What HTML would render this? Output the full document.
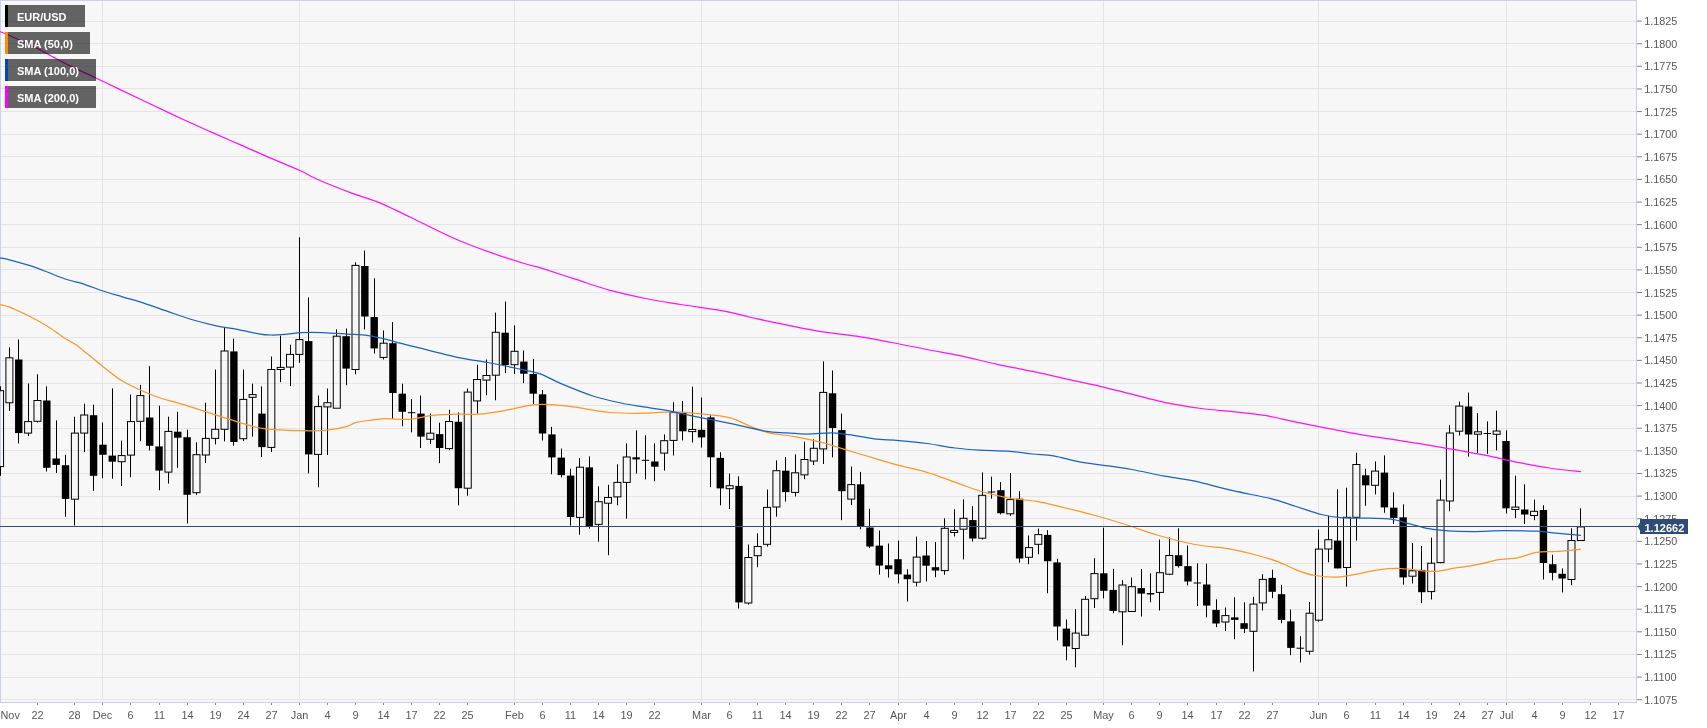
<!DOCTYPE html>
<html lang="en"><head><meta charset="utf-8"><title>EUR/USD</title>
<style>html,body{margin:0;padding:0;background:#fff;}body{width:1707px;height:728px;overflow:hidden;}svg{display:block;will-change:transform;}text{font-family:"Liberation Sans",sans-serif;}</style></head><body>
<svg width="1707" height="728" viewBox="0 0 1707 728">
<rect x="0" y="0" width="1707" height="728" fill="#ffffff"/>
<rect x="0" y="0" width="1637" height="702" fill="#f7f7f7"/>
<g stroke="#e4e4e4" stroke-width="1" shape-rendering="crispEdges"><line x1="0" y1="21.5" x2="1637" y2="21.5"/><line x1="0" y1="43.5" x2="1637" y2="43.5"/><line x1="0" y1="66.5" x2="1637" y2="66.5"/><line x1="0" y1="88.5" x2="1637" y2="88.5"/><line x1="0" y1="111.5" x2="1637" y2="111.5"/><line x1="0" y1="134.5" x2="1637" y2="134.5"/><line x1="0" y1="156.5" x2="1637" y2="156.5"/><line x1="0" y1="179.5" x2="1637" y2="179.5"/><line x1="0" y1="202.5" x2="1637" y2="202.5"/><line x1="0" y1="224.5" x2="1637" y2="224.5"/><line x1="0" y1="247.5" x2="1637" y2="247.5"/><line x1="0" y1="269.5" x2="1637" y2="269.5"/><line x1="0" y1="292.5" x2="1637" y2="292.5"/><line x1="0" y1="315.5" x2="1637" y2="315.5"/><line x1="0" y1="337.5" x2="1637" y2="337.5"/><line x1="0" y1="360.5" x2="1637" y2="360.5"/><line x1="0" y1="383.5" x2="1637" y2="383.5"/><line x1="0" y1="405.5" x2="1637" y2="405.5"/><line x1="0" y1="428.5" x2="1637" y2="428.5"/><line x1="0" y1="450.5" x2="1637" y2="450.5"/><line x1="0" y1="473.5" x2="1637" y2="473.5"/><line x1="0" y1="496.5" x2="1637" y2="496.5"/><line x1="0" y1="518.5" x2="1637" y2="518.5"/><line x1="0" y1="541.5" x2="1637" y2="541.5"/><line x1="0" y1="563.5" x2="1637" y2="563.5"/><line x1="0" y1="586.5" x2="1637" y2="586.5"/><line x1="0" y1="609.5" x2="1637" y2="609.5"/><line x1="0" y1="631.5" x2="1637" y2="631.5"/><line x1="0" y1="654.5" x2="1637" y2="654.5"/><line x1="0" y1="677.5" x2="1637" y2="677.5"/><line x1="0" y1="699.5" x2="1637" y2="699.5"/><line x1="102.5" y1="0" x2="102.5" y2="702"/><line x1="299.5" y1="0" x2="299.5" y2="702"/><line x1="514.5" y1="0" x2="514.5" y2="702"/><line x1="701.5" y1="0" x2="701.5" y2="702"/><line x1="898.5" y1="0" x2="898.5" y2="702"/><line x1="1103.5" y1="0" x2="1103.5" y2="702"/><line x1="1318.5" y1="0" x2="1318.5" y2="702"/><line x1="1506.5" y1="0" x2="1506.5" y2="702"/></g>
<g stroke="#cbd1e4" stroke-width="1" shape-rendering="crispEdges"><line x1="0" y1="0.5" x2="1637" y2="0.5"/><line x1="0.5" y1="0" x2="0.5" y2="702"/><line x1="1636.5" y1="0" x2="1636.5" y2="703"/><line x1="0" y1="702.5" x2="1637" y2="702.5"/></g>
<g stroke="#000" stroke-width="1"><line x1="0.5" y1="386.4" x2="0.5" y2="390.7"/><line x1="0.5" y1="466.6" x2="0.5" y2="475.8"/><rect x="-3.45" y="390.7" width="7" height="75.9" fill="none"/><line x1="9.5" y1="347.4" x2="9.5" y2="357.8"/><line x1="9.5" y1="402.8" x2="9.5" y2="410.9"/><rect x="5.90" y="357.8" width="7" height="45.0" fill="none"/><line x1="18.5" y1="339.5" x2="18.5" y2="443.5"/><rect x="15.05" y="359.5" width="7.4" height="73.6" fill="#000" stroke="none"/><line x1="28.5" y1="383.5" x2="28.5" y2="421.6"/><line x1="28.5" y1="433.1" x2="28.5" y2="436.0"/><rect x="24.61" y="421.6" width="7" height="11.5" fill="none"/><line x1="37.5" y1="374.3" x2="37.5" y2="400.5"/><line x1="37.5" y1="421.3" x2="37.5" y2="422.5"/><rect x="33.96" y="400.5" width="7" height="20.8" fill="none"/><line x1="46.5" y1="386.4" x2="46.5" y2="471.5"/><rect x="43.12" y="400.5" width="7.4" height="67.3" fill="#000" stroke="none"/><line x1="56.5" y1="420.4" x2="56.5" y2="473.0"/><rect x="52.47" y="458.5" width="7.4" height="6.4" fill="#000" stroke="none"/><line x1="65.5" y1="454.8" x2="65.5" y2="516.8"/><rect x="61.82" y="465.2" width="7.4" height="33.7" fill="#000" stroke="none"/><line x1="74.5" y1="416.7" x2="74.5" y2="433.1"/><line x1="74.5" y1="499.2" x2="74.5" y2="525.5"/><rect x="71.38" y="433.1" width="7" height="66.1" fill="none"/><line x1="84.5" y1="403.7" x2="84.5" y2="415.0"/><line x1="84.5" y1="433.1" x2="84.5" y2="452.2"/><rect x="80.73" y="415.0" width="7" height="18.1" fill="none"/><line x1="93.5" y1="404.6" x2="93.5" y2="490.9"/><rect x="89.88" y="415.2" width="7.4" height="60.6" fill="#000" stroke="none"/><line x1="102.5" y1="422.5" x2="102.5" y2="478.2"/><rect x="99.24" y="444.7" width="7.4" height="10.1" fill="#000" stroke="none"/><line x1="112.5" y1="388.4" x2="112.5" y2="478.7"/><rect x="108.59" y="455.6" width="7.4" height="6.1" fill="#000" stroke="none"/><line x1="121.5" y1="440.6" x2="121.5" y2="455.6"/><line x1="121.5" y1="461.7" x2="121.5" y2="486.0"/><rect x="118.15" y="455.6" width="7" height="6.1" fill="none"/><line x1="130.5" y1="394.5" x2="130.5" y2="421.6"/><line x1="130.5" y1="455.1" x2="130.5" y2="477.3"/><rect x="127.50" y="421.6" width="7" height="33.5" fill="none"/><line x1="140.5" y1="384.9" x2="140.5" y2="395.6"/><line x1="140.5" y1="421.3" x2="140.5" y2="441.2"/><rect x="136.85" y="395.6" width="7" height="25.7" fill="none"/><line x1="149.5" y1="366.2" x2="149.5" y2="450.4"/><rect x="146.01" y="417.5" width="7.4" height="28.3" fill="#000" stroke="none"/><line x1="159.5" y1="405.7" x2="159.5" y2="490.3"/><rect x="155.36" y="446.4" width="7.4" height="24.2" fill="#000" stroke="none"/><line x1="168.5" y1="416.7" x2="168.5" y2="431.4"/><line x1="168.5" y1="472.1" x2="168.5" y2="483.6"/><rect x="164.91" y="431.4" width="7" height="40.7" fill="none"/><line x1="177.5" y1="411.8" x2="177.5" y2="467.8"/><rect x="174.07" y="431.7" width="7.4" height="6.0" fill="#000" stroke="none"/><line x1="187.5" y1="429.7" x2="187.5" y2="523.5"/><rect x="183.42" y="437.2" width="7.4" height="57.6" fill="#000" stroke="none"/><line x1="196.5" y1="442.3" x2="196.5" y2="454.7"/><line x1="196.5" y1="492.7" x2="196.5" y2="494.8"/><rect x="192.98" y="454.7" width="7" height="38.0" fill="none"/><line x1="205.5" y1="402.7" x2="205.5" y2="438.4"/><line x1="205.5" y1="455.0" x2="205.5" y2="463.1"/><rect x="202.33" y="438.4" width="7" height="16.6" fill="none"/><line x1="215.5" y1="369.5" x2="215.5" y2="429.3"/><line x1="215.5" y1="438.4" x2="215.5" y2="444.4"/><rect x="211.68" y="429.3" width="7" height="9.1" fill="none"/><line x1="224.5" y1="327.2" x2="224.5" y2="351.0"/><line x1="224.5" y1="429.3" x2="224.5" y2="441.4"/><rect x="221.04" y="351.0" width="7" height="78.3" fill="none"/><line x1="233.5" y1="338.6" x2="233.5" y2="445.6"/><rect x="230.19" y="351.4" width="7.4" height="90.6" fill="#000" stroke="none"/><line x1="243.5" y1="369.5" x2="243.5" y2="399.4"/><line x1="243.5" y1="438.7" x2="243.5" y2="441.1"/><rect x="239.75" y="399.4" width="7" height="39.3" fill="none"/><line x1="252.5" y1="383.7" x2="252.5" y2="394.6"/><line x1="252.5" y1="397.3" x2="252.5" y2="436.6"/><rect x="249.10" y="394.6" width="7" height="2.7" fill="none"/><line x1="261.5" y1="386.4" x2="261.5" y2="457.1"/><rect x="258.25" y="413.6" width="7.4" height="33.5" fill="#000" stroke="none"/><line x1="271.5" y1="356.5" x2="271.5" y2="369.5"/><line x1="271.5" y1="447.4" x2="271.5" y2="452.0"/><rect x="267.81" y="369.5" width="7" height="77.9" fill="none"/><line x1="280.5" y1="335.6" x2="280.5" y2="367.4"/><line x1="280.5" y1="369.5" x2="280.5" y2="382.2"/><rect x="277.16" y="367.4" width="7" height="2.1" fill="none"/><line x1="290.5" y1="344.7" x2="290.5" y2="354.4"/><line x1="290.5" y1="367.1" x2="290.5" y2="386.1"/><rect x="286.51" y="354.4" width="7" height="12.7" fill="none"/><line x1="299.5" y1="237.3" x2="299.5" y2="339.6"/><line x1="299.5" y1="354.4" x2="299.5" y2="362.8"/><rect x="295.87" y="339.6" width="7" height="14.8" fill="none"/><line x1="308.5" y1="297.4" x2="308.5" y2="473.4"/><rect x="305.02" y="341.1" width="7.4" height="113.3" fill="#000" stroke="none"/><line x1="318.5" y1="395.5" x2="318.5" y2="406.6"/><line x1="318.5" y1="454.4" x2="318.5" y2="487.3"/><rect x="314.58" y="406.6" width="7" height="47.8" fill="none"/><line x1="327.5" y1="388.5" x2="327.5" y2="402.7"/><line x1="327.5" y1="406.9" x2="327.5" y2="455.0"/><rect x="323.93" y="402.7" width="7" height="4.2" fill="none"/><line x1="336.5" y1="329.3" x2="336.5" y2="336.2"/><rect x="333.28" y="336.2" width="7" height="72.0" fill="none"/><line x1="346.5" y1="328.5" x2="346.5" y2="385.2"/><rect x="342.44" y="336.2" width="7.4" height="32.4" fill="#000" stroke="none"/><line x1="355.5" y1="262.3" x2="355.5" y2="265.4"/><line x1="355.5" y1="369.5" x2="355.5" y2="374.3"/><rect x="351.99" y="265.4" width="7" height="104.1" fill="none"/><line x1="364.5" y1="250.5" x2="364.5" y2="329.5"/><rect x="361.14" y="266.0" width="7.4" height="50.5" fill="#000" stroke="none"/><line x1="374.5" y1="278.3" x2="374.5" y2="353.5"/><rect x="370.50" y="317.0" width="7.4" height="31.4" fill="#000" stroke="none"/><line x1="383.5" y1="330.4" x2="383.5" y2="343.2"/><line x1="383.5" y1="357.4" x2="383.5" y2="359.5"/><rect x="380.05" y="343.2" width="7" height="14.2" fill="none"/><line x1="392.5" y1="322.1" x2="392.5" y2="418.8"/><rect x="389.21" y="343.2" width="7.4" height="49.8" fill="#000" stroke="none"/><line x1="402.5" y1="383.7" x2="402.5" y2="426.3"/><rect x="398.56" y="393.7" width="7.4" height="18.1" fill="#000" stroke="none"/><line x1="411.5" y1="399.1" x2="411.5" y2="432.3"/><rect x="407.91" y="412.2" width="7.4" height="1.0" fill="#000" stroke="none"/><line x1="420.5" y1="395.5" x2="420.5" y2="448.0"/><rect x="417.27" y="413.6" width="7.4" height="23.0" fill="#000" stroke="none"/><line x1="430.5" y1="413.6" x2="430.5" y2="433.2"/><line x1="430.5" y1="439.3" x2="430.5" y2="444.1"/><rect x="426.82" y="433.2" width="7" height="6.1" fill="none"/><line x1="439.5" y1="422.7" x2="439.5" y2="463.1"/><rect x="435.97" y="434.1" width="7.4" height="13.9" fill="#000" stroke="none"/><line x1="449.5" y1="409.7" x2="449.5" y2="421.5"/><line x1="449.5" y1="448.6" x2="449.5" y2="450.2"/><rect x="445.53" y="421.5" width="7" height="27.1" fill="none"/><line x1="458.5" y1="412.4" x2="458.5" y2="505.4"/><rect x="454.68" y="421.8" width="7.4" height="66.4" fill="#000" stroke="none"/><line x1="467.5" y1="388.5" x2="467.5" y2="392.1"/><line x1="467.5" y1="488.2" x2="467.5" y2="495.8"/><rect x="464.24" y="392.1" width="7" height="96.1" fill="none"/><line x1="477.5" y1="364.7" x2="477.5" y2="379.5"/><line x1="477.5" y1="400.9" x2="477.5" y2="413.6"/><rect x="473.59" y="379.5" width="7" height="21.4" fill="none"/><line x1="486.5" y1="359.5" x2="486.5" y2="375.5"/><line x1="486.5" y1="380.1" x2="486.5" y2="395.2"/><rect x="482.94" y="375.5" width="7" height="4.6" fill="none"/><line x1="495.5" y1="312.6" x2="495.5" y2="332.3"/><line x1="495.5" y1="375.2" x2="495.5" y2="400.3"/><rect x="492.30" y="332.3" width="7" height="42.9" fill="none"/><line x1="505.5" y1="301.5" x2="505.5" y2="373.1"/><rect x="501.45" y="332.7" width="7.4" height="32.3" fill="#000" stroke="none"/><line x1="514.5" y1="325.4" x2="514.5" y2="351.3"/><line x1="514.5" y1="364.7" x2="514.5" y2="374.0"/><rect x="511.01" y="351.3" width="7" height="13.4" fill="none"/><line x1="523.5" y1="350.5" x2="523.5" y2="383.1"/><rect x="520.16" y="361.6" width="7.4" height="12.1" fill="#000" stroke="none"/><line x1="533.5" y1="358.9" x2="533.5" y2="404.2"/><rect x="529.51" y="374.0" width="7.4" height="19.7" fill="#000" stroke="none"/><line x1="542.5" y1="390.0" x2="542.5" y2="440.5"/><rect x="538.87" y="394.3" width="7.4" height="39.2" fill="#000" stroke="none"/><line x1="551.5" y1="426.9" x2="551.5" y2="474.3"/><rect x="548.22" y="434.4" width="7.4" height="23.0" fill="#000" stroke="none"/><line x1="561.5" y1="448.5" x2="561.5" y2="477.4"/><rect x="557.57" y="457.6" width="7.4" height="17.5" fill="#000" stroke="none"/><line x1="570.5" y1="468.7" x2="570.5" y2="525.6"/><rect x="566.93" y="475.6" width="7.4" height="41.4" fill="#000" stroke="none"/><line x1="579.5" y1="458.1" x2="579.5" y2="467.2"/><line x1="579.5" y1="517.4" x2="579.5" y2="534.7"/><rect x="576.48" y="467.2" width="7" height="50.2" fill="none"/><line x1="589.5" y1="456.4" x2="589.5" y2="528.6"/><rect x="585.64" y="467.4" width="7.4" height="59.1" fill="#000" stroke="none"/><line x1="598.5" y1="486.3" x2="598.5" y2="501.7"/><line x1="598.5" y1="524.4" x2="598.5" y2="541.6"/><rect x="595.19" y="501.7" width="7" height="22.7" fill="none"/><line x1="608.5" y1="484.8" x2="608.5" y2="497.5"/><line x1="608.5" y1="503.2" x2="608.5" y2="555.2"/><rect x="604.54" y="497.5" width="7" height="5.7" fill="none"/><line x1="617.5" y1="464.3" x2="617.5" y2="482.4"/><line x1="617.5" y1="496.9" x2="617.5" y2="505.3"/><rect x="613.90" y="482.4" width="7" height="14.5" fill="none"/><line x1="626.5" y1="443.4" x2="626.5" y2="457.0"/><line x1="626.5" y1="482.4" x2="626.5" y2="518.6"/><rect x="623.25" y="457.0" width="7" height="25.4" fill="none"/><line x1="636.5" y1="430.4" x2="636.5" y2="473.6"/><rect x="632.40" y="457.3" width="7.4" height="2.1" fill="#000" stroke="none"/><line x1="645.5" y1="435.3" x2="645.5" y2="479.4"/><rect x="641.76" y="459.8" width="7.4" height="1.0" fill="#000" stroke="none"/><line x1="654.5" y1="443.4" x2="654.5" y2="481.2"/><rect x="651.11" y="461.5" width="7.4" height="5.2" fill="#000" stroke="none"/><line x1="664.5" y1="434.4" x2="664.5" y2="440.7"/><line x1="664.5" y1="453.1" x2="664.5" y2="470.6"/><rect x="660.67" y="440.7" width="7" height="12.4" fill="none"/><line x1="673.5" y1="402.3" x2="673.5" y2="412.6"/><line x1="673.5" y1="440.4" x2="673.5" y2="455.5"/><rect x="670.02" y="412.6" width="7" height="27.8" fill="none"/><line x1="682.5" y1="401.1" x2="682.5" y2="440.4"/><rect x="679.17" y="412.9" width="7.4" height="18.4" fill="#000" stroke="none"/><line x1="692.5" y1="386.6" x2="692.5" y2="429.5"/><line x1="692.5" y1="431.6" x2="692.5" y2="442.5"/><rect x="688.73" y="429.5" width="7" height="2.1" fill="none"/><line x1="701.5" y1="397.5" x2="701.5" y2="447.6"/><rect x="697.88" y="429.8" width="7.4" height="7.6" fill="#000" stroke="none"/><line x1="710.5" y1="415.3" x2="710.5" y2="487.2"/><rect x="707.23" y="417.4" width="7.4" height="39.9" fill="#000" stroke="none"/><line x1="720.5" y1="452.2" x2="720.5" y2="505.3"/><rect x="716.59" y="457.9" width="7.4" height="30.5" fill="#000" stroke="none"/><line x1="729.5" y1="473.6" x2="729.5" y2="485.7"/><line x1="729.5" y1="488.7" x2="729.5" y2="509.0"/><rect x="726.14" y="485.7" width="7" height="3.0" fill="none"/><line x1="738.5" y1="476.3" x2="738.5" y2="608.5"/><rect x="735.30" y="485.9" width="7.4" height="116.5" fill="#000" stroke="none"/><line x1="748.5" y1="544.5" x2="748.5" y2="557.5"/><line x1="748.5" y1="603.0" x2="748.5" y2="604.5"/><rect x="744.85" y="557.5" width="7" height="45.5" fill="none"/><line x1="757.5" y1="533.3" x2="757.5" y2="546.5"/><line x1="757.5" y1="555.7" x2="757.5" y2="567.2"/><rect x="754.20" y="546.5" width="7" height="9.2" fill="none"/><line x1="767.5" y1="489.5" x2="767.5" y2="507.4"/><line x1="767.5" y1="544.3" x2="767.5" y2="546.5"/><rect x="763.56" y="507.4" width="7" height="36.9" fill="none"/><line x1="776.5" y1="460.4" x2="776.5" y2="470.7"/><line x1="776.5" y1="507.0" x2="776.5" y2="516.6"/><rect x="772.91" y="470.7" width="7" height="36.3" fill="none"/><line x1="785.5" y1="457.1" x2="785.5" y2="501.5"/><rect x="782.07" y="470.7" width="7.4" height="21.4" fill="#000" stroke="none"/><line x1="795.5" y1="454.4" x2="795.5" y2="472.8"/><line x1="795.5" y1="492.4" x2="795.5" y2="496.4"/><rect x="791.62" y="472.8" width="7" height="19.6" fill="none"/><line x1="804.5" y1="441.7" x2="804.5" y2="459.5"/><line x1="804.5" y1="474.9" x2="804.5" y2="479.2"/><rect x="800.97" y="459.5" width="7" height="15.4" fill="none"/><line x1="813.5" y1="439.3" x2="813.5" y2="448.3"/><line x1="813.5" y1="461.0" x2="813.5" y2="465.0"/><rect x="810.33" y="448.3" width="7" height="12.7" fill="none"/><line x1="823.5" y1="361.4" x2="823.5" y2="392.4"/><line x1="823.5" y1="448.9" x2="823.5" y2="464.0"/><rect x="819.68" y="392.4" width="7" height="56.5" fill="none"/><line x1="832.5" y1="370.4" x2="832.5" y2="457.4"/><rect x="828.83" y="393.3" width="7.4" height="34.7" fill="#000" stroke="none"/><line x1="841.5" y1="413.5" x2="841.5" y2="520.2"/><rect x="838.19" y="430.1" width="7.4" height="61.1" fill="#000" stroke="none"/><line x1="851.5" y1="466.5" x2="851.5" y2="484.6"/><line x1="851.5" y1="499.1" x2="851.5" y2="505.1"/><rect x="847.74" y="484.6" width="7" height="14.5" fill="none"/><line x1="860.5" y1="471.9" x2="860.5" y2="529.3"/><rect x="856.90" y="484.3" width="7.4" height="41.7" fill="#000" stroke="none"/><line x1="869.5" y1="508.8" x2="869.5" y2="548.0"/><rect x="866.25" y="527.5" width="7.4" height="19.0" fill="#000" stroke="none"/><line x1="879.5" y1="530.5" x2="879.5" y2="574.6"/><rect x="875.60" y="545.6" width="7.4" height="20.0" fill="#000" stroke="none"/><line x1="888.5" y1="543.5" x2="888.5" y2="577.6"/><rect x="884.96" y="565.3" width="7.4" height="3.9" fill="#000" stroke="none"/><line x1="898.5" y1="540.5" x2="898.5" y2="583.4"/><rect x="894.31" y="559.2" width="7.4" height="15.1" fill="#000" stroke="none"/><line x1="907.5" y1="569.2" x2="907.5" y2="601.5"/><rect x="903.66" y="574.6" width="7.4" height="4.6" fill="#000" stroke="none"/><line x1="916.5" y1="536.6" x2="916.5" y2="557.1"/><line x1="916.5" y1="582.2" x2="916.5" y2="586.4"/><rect x="913.22" y="557.1" width="7" height="25.1" fill="none"/><line x1="926.5" y1="541.0" x2="926.5" y2="581.4"/><rect x="922.37" y="555.5" width="7.4" height="10.2" fill="#000" stroke="none"/><line x1="935.5" y1="542.1" x2="935.5" y2="577.2"/><rect x="931.73" y="567.2" width="7.4" height="3.3" fill="#000" stroke="none"/><line x1="944.5" y1="518.3" x2="944.5" y2="528.3"/><line x1="944.5" y1="570.6" x2="944.5" y2="574.8"/><rect x="941.28" y="528.3" width="7" height="42.3" fill="none"/><line x1="954.5" y1="509.2" x2="954.5" y2="530.4"/><line x1="954.5" y1="532.5" x2="954.5" y2="536.4"/><rect x="950.63" y="530.4" width="7" height="2.1" fill="none"/><line x1="963.5" y1="499.3" x2="963.5" y2="518.3"/><line x1="963.5" y1="529.2" x2="963.5" y2="559.4"/><rect x="959.99" y="518.3" width="7" height="10.9" fill="none"/><line x1="972.5" y1="506.2" x2="972.5" y2="541.6"/><rect x="969.14" y="520.1" width="7.4" height="18.4" fill="#000" stroke="none"/><line x1="982.5" y1="472.4" x2="982.5" y2="495.3"/><line x1="982.5" y1="538.2" x2="982.5" y2="539.5"/><rect x="978.70" y="495.3" width="7" height="42.9" fill="none"/><line x1="991.5" y1="476.6" x2="991.5" y2="498.7"/><rect x="987.85" y="491.5" width="7.4" height="1.0" fill="#000" stroke="none"/><line x1="1000.5" y1="482.1" x2="1000.5" y2="514.4"/><rect x="997.20" y="490.2" width="7.4" height="23.0" fill="#000" stroke="none"/><line x1="1010.5" y1="473.0" x2="1010.5" y2="499.6"/><line x1="1010.5" y1="513.8" x2="1010.5" y2="515.9"/><rect x="1006.76" y="499.6" width="7" height="14.2" fill="none"/><line x1="1019.5" y1="491.1" x2="1019.5" y2="562.7"/><rect x="1015.91" y="498.7" width="7.4" height="59.8" fill="#000" stroke="none"/><line x1="1028.5" y1="535.5" x2="1028.5" y2="547.6"/><line x1="1028.5" y1="557.3" x2="1028.5" y2="564.2"/><rect x="1025.46" y="547.6" width="7" height="9.7" fill="none"/><line x1="1038.5" y1="528.6" x2="1038.5" y2="534.6"/><line x1="1038.5" y1="544.3" x2="1038.5" y2="554.3"/><rect x="1034.82" y="534.6" width="7" height="9.7" fill="none"/><line x1="1047.5" y1="530.1" x2="1047.5" y2="593.2"/><rect x="1043.97" y="534.9" width="7.4" height="26.3" fill="#000" stroke="none"/><line x1="1057.5" y1="558.8" x2="1057.5" y2="640.4"/><rect x="1053.33" y="562.4" width="7.4" height="64.1" fill="#000" stroke="none"/><line x1="1066.5" y1="619.5" x2="1066.5" y2="660.3"/><rect x="1062.68" y="628.6" width="7.4" height="17.8" fill="#000" stroke="none"/><line x1="1075.5" y1="609.2" x2="1075.5" y2="633.1"/><line x1="1075.5" y1="648.5" x2="1075.5" y2="667.3"/><rect x="1072.23" y="633.1" width="7" height="15.4" fill="none"/><line x1="1085.5" y1="596.0" x2="1085.5" y2="599.3"/><line x1="1085.5" y1="635.2" x2="1085.5" y2="636.1"/><rect x="1081.59" y="599.3" width="7" height="35.9" fill="none"/><line x1="1094.5" y1="558.2" x2="1094.5" y2="573.6"/><line x1="1094.5" y1="598.7" x2="1094.5" y2="608.0"/><rect x="1090.94" y="573.6" width="7" height="25.1" fill="none"/><line x1="1103.5" y1="527.7" x2="1103.5" y2="598.4"/><rect x="1100.09" y="573.3" width="7.4" height="17.5" fill="#000" stroke="none"/><line x1="1113.5" y1="568.8" x2="1113.5" y2="613.2"/><rect x="1109.45" y="589.9" width="7.4" height="21.0" fill="#000" stroke="none"/><line x1="1122.5" y1="580.2" x2="1122.5" y2="585.0"/><line x1="1122.5" y1="611.8" x2="1122.5" y2="645.2"/><rect x="1119.00" y="585.0" width="7" height="26.8" fill="none"/><line x1="1131.5" y1="577.5" x2="1131.5" y2="586.7"/><line x1="1131.5" y1="611.5" x2="1131.5" y2="612.0"/><rect x="1128.36" y="586.7" width="7" height="24.8" fill="none"/><line x1="1141.5" y1="569.1" x2="1141.5" y2="616.5"/><rect x="1137.51" y="588.1" width="7.4" height="5.5" fill="#000" stroke="none"/><line x1="1150.5" y1="573.3" x2="1150.5" y2="602.3"/><rect x="1146.86" y="593.0" width="7.4" height="1.5" fill="#000" stroke="none"/><line x1="1159.5" y1="539.5" x2="1159.5" y2="572.7"/><line x1="1159.5" y1="592.4" x2="1159.5" y2="610.5"/><rect x="1156.42" y="572.7" width="7" height="19.7" fill="none"/><line x1="1169.5" y1="537.4" x2="1169.5" y2="555.5"/><line x1="1169.5" y1="574.2" x2="1169.5" y2="575.1"/><rect x="1165.77" y="555.5" width="7" height="18.7" fill="none"/><line x1="1178.5" y1="528.3" x2="1178.5" y2="567.6"/><rect x="1174.92" y="555.2" width="7.4" height="10.9" fill="#000" stroke="none"/><line x1="1187.5" y1="545.5" x2="1187.5" y2="585.4"/><rect x="1184.28" y="566.1" width="7.4" height="15.4" fill="#000" stroke="none"/><line x1="1197.5" y1="563.4" x2="1197.5" y2="606.0"/><rect x="1193.63" y="582.5" width="7.4" height="1.0" fill="#000" stroke="none"/><line x1="1206.5" y1="563.7" x2="1206.5" y2="617.4"/><rect x="1202.99" y="584.5" width="7.4" height="21.1" fill="#000" stroke="none"/><line x1="1216.5" y1="599.3" x2="1216.5" y2="627.1"/><rect x="1212.34" y="609.9" width="7.4" height="13.6" fill="#000" stroke="none"/><line x1="1225.5" y1="607.5" x2="1225.5" y2="615.6"/><line x1="1225.5" y1="622.0" x2="1225.5" y2="631.0"/><rect x="1221.89" y="615.6" width="7" height="6.4" fill="none"/><line x1="1234.5" y1="597.2" x2="1234.5" y2="639.2"/><rect x="1231.05" y="617.4" width="7.4" height="2.5" fill="#000" stroke="none"/><line x1="1244.5" y1="602.3" x2="1244.5" y2="633.1"/><rect x="1240.40" y="623.2" width="7.4" height="5.7" fill="#000" stroke="none"/><line x1="1253.5" y1="596.9" x2="1253.5" y2="604.1"/><line x1="1253.5" y1="631.3" x2="1253.5" y2="671.5"/><rect x="1249.96" y="604.1" width="7" height="27.2" fill="none"/><line x1="1262.5" y1="574.2" x2="1262.5" y2="579.4"/><line x1="1262.5" y1="602.9" x2="1262.5" y2="610.5"/><rect x="1259.31" y="579.4" width="7" height="23.5" fill="none"/><line x1="1272.5" y1="569.7" x2="1272.5" y2="598.1"/><rect x="1268.46" y="577.9" width="7.4" height="13.9" fill="#000" stroke="none"/><line x1="1281.5" y1="584.8" x2="1281.5" y2="623.2"/><rect x="1277.82" y="594.2" width="7.4" height="25.7" fill="#000" stroke="none"/><line x1="1290.5" y1="609.6" x2="1290.5" y2="655.2"/><rect x="1287.17" y="621.4" width="7.4" height="26.5" fill="#000" stroke="none"/><line x1="1300.5" y1="636.2" x2="1300.5" y2="662.4"/><rect x="1296.52" y="647.7" width="7.4" height="1.0" fill="#000" stroke="none"/><line x1="1309.5" y1="602.0" x2="1309.5" y2="613.2"/><line x1="1309.5" y1="651.3" x2="1309.5" y2="654.6"/><rect x="1306.08" y="613.2" width="7" height="38.1" fill="none"/><line x1="1318.5" y1="529.5" x2="1318.5" y2="549.1"/><line x1="1318.5" y1="620.2" x2="1318.5" y2="621.7"/><rect x="1315.43" y="549.1" width="7" height="71.1" fill="none"/><line x1="1328.5" y1="515.8" x2="1328.5" y2="539.7"/><line x1="1328.5" y1="549.0" x2="1328.5" y2="562.3"/><rect x="1324.79" y="539.7" width="7" height="9.3" fill="none"/><line x1="1337.5" y1="489.2" x2="1337.5" y2="568.4"/><rect x="1333.94" y="540.6" width="7.4" height="27.8" fill="#000" stroke="none"/><line x1="1346.5" y1="487.7" x2="1346.5" y2="517.3"/><line x1="1346.5" y1="567.5" x2="1346.5" y2="586.5"/><rect x="1343.49" y="517.3" width="7" height="50.2" fill="none"/><line x1="1356.5" y1="452.7" x2="1356.5" y2="464.5"/><line x1="1356.5" y1="517.3" x2="1356.5" y2="540.6"/><rect x="1352.85" y="464.5" width="7" height="52.8" fill="none"/><line x1="1365.5" y1="468.7" x2="1365.5" y2="505.8"/><rect x="1362.00" y="475.3" width="7.4" height="10.0" fill="#000" stroke="none"/><line x1="1375.5" y1="461.4" x2="1375.5" y2="471.1"/><line x1="1375.5" y1="485.3" x2="1375.5" y2="494.4"/><rect x="1371.55" y="471.1" width="7" height="14.2" fill="none"/><line x1="1384.5" y1="455.4" x2="1384.5" y2="512.8"/><rect x="1380.71" y="472.6" width="7.4" height="34.8" fill="#000" stroke="none"/><line x1="1393.5" y1="492.3" x2="1393.5" y2="524.0"/><rect x="1390.06" y="507.7" width="7.4" height="10.2" fill="#000" stroke="none"/><line x1="1403.5" y1="504.3" x2="1403.5" y2="584.7"/><rect x="1399.42" y="517.3" width="7.4" height="60.1" fill="#000" stroke="none"/><line x1="1412.5" y1="543.0" x2="1412.5" y2="570.8"/><line x1="1412.5" y1="576.2" x2="1412.5" y2="583.5"/><rect x="1408.97" y="570.8" width="7" height="5.4" fill="none"/><line x1="1421.5" y1="546.0" x2="1421.5" y2="603.1"/><rect x="1418.12" y="569.9" width="7.4" height="22.3" fill="#000" stroke="none"/><line x1="1431.5" y1="537.6" x2="1431.5" y2="563.2"/><line x1="1431.5" y1="591.6" x2="1431.5" y2="599.5"/><rect x="1427.68" y="563.2" width="7" height="28.4" fill="none"/><line x1="1440.5" y1="479.6" x2="1440.5" y2="500.1"/><line x1="1440.5" y1="562.6" x2="1440.5" y2="563.2"/><rect x="1437.03" y="500.1" width="7" height="62.5" fill="none"/><line x1="1449.5" y1="425.2" x2="1449.5" y2="433.0"/><line x1="1449.5" y1="501.0" x2="1449.5" y2="511.3"/><rect x="1446.39" y="433.0" width="7" height="68.0" fill="none"/><line x1="1459.5" y1="401.6" x2="1459.5" y2="406.1"/><line x1="1459.5" y1="431.2" x2="1459.5" y2="435.5"/><rect x="1455.74" y="406.1" width="7" height="25.1" fill="none"/><line x1="1468.5" y1="392.6" x2="1468.5" y2="456.6"/><rect x="1464.89" y="406.5" width="7.4" height="28.0" fill="#000" stroke="none"/><line x1="1477.5" y1="413.1" x2="1477.5" y2="431.8"/><line x1="1477.5" y1="434.2" x2="1477.5" y2="453.0"/><rect x="1474.45" y="431.8" width="7" height="2.4" fill="none"/><line x1="1487.5" y1="421.3" x2="1487.5" y2="453.9"/><rect x="1483.60" y="433.0" width="7.4" height="1.0" fill="#000" stroke="none"/><line x1="1496.5" y1="410.7" x2="1496.5" y2="431.0"/><line x1="1496.5" y1="434.3" x2="1496.5" y2="450.4"/><rect x="1493.15" y="431.0" width="7" height="3.3" fill="none"/><line x1="1506.5" y1="430.3" x2="1506.5" y2="513.5"/><rect x="1502.31" y="441.0" width="7.4" height="67.3" fill="#000" stroke="none"/><line x1="1515.5" y1="475.7" x2="1515.5" y2="507.1"/><line x1="1515.5" y1="509.5" x2="1515.5" y2="518.2"/><rect x="1511.86" y="507.1" width="7" height="2.4" fill="none"/><line x1="1524.5" y1="484.3" x2="1524.5" y2="523.9"/><rect x="1521.02" y="509.5" width="7.4" height="5.0" fill="#000" stroke="none"/><line x1="1534.5" y1="499.6" x2="1534.5" y2="511.3"/><line x1="1534.5" y1="515.5" x2="1534.5" y2="520.2"/><rect x="1530.57" y="511.3" width="7" height="4.2" fill="none"/><line x1="1543.5" y1="505.3" x2="1543.5" y2="579.5"/><rect x="1539.72" y="510.0" width="7.4" height="53.0" fill="#000" stroke="none"/><line x1="1552.5" y1="554.8" x2="1552.5" y2="580.3"/><rect x="1549.08" y="564.2" width="7.4" height="8.7" fill="#000" stroke="none"/><line x1="1562.5" y1="568.4" x2="1562.5" y2="592.4"/><rect x="1558.43" y="573.8" width="7.4" height="4.7" fill="#000" stroke="none"/><line x1="1571.5" y1="528.3" x2="1571.5" y2="540.5"/><line x1="1571.5" y1="579.5" x2="1571.5" y2="585.2"/><rect x="1567.98" y="540.5" width="7" height="39.0" fill="none"/><line x1="1580.5" y1="508.3" x2="1580.5" y2="526.9"/><rect x="1577.34" y="526.9" width="7" height="13.6" fill="none"/></g>
<path fill="none" stroke="#ff10ff" stroke-width="1.25" stroke-linejoin="round" d="M0.0 31.7 C1.3 32.2 1.8 32.1 7.8 34.8 C13.8 37.5 28.2 43.9 36.0 47.7 C43.8 51.6 49.0 54.8 54.8 57.9 C60.5 61.0 63.6 62.7 70.5 66.1 C77.4 69.5 88.0 74.3 96.3 78.2 C104.6 82.1 111.2 85.3 120.2 89.6 C129.2 93.9 140.3 99.2 150.4 104.0 C160.5 108.8 170.5 113.6 180.6 118.3 C190.7 123.0 200.7 127.4 210.8 131.9 C220.9 136.4 231.0 140.7 241.1 145.1 C251.2 149.5 261.5 154.2 271.3 158.4 C281.1 162.6 292.4 167.1 300.0 170.5 C307.6 173.9 308.0 175.2 316.6 179.0 C325.2 182.8 341.1 189.1 351.7 193.1 C362.2 197.1 368.2 197.9 379.9 202.9 C391.6 207.9 409.2 216.8 422.1 223.0 C435.0 229.2 445.6 234.8 457.3 239.8 C469.0 244.8 480.7 249.1 492.4 253.2 C504.1 257.3 519.7 262.1 527.6 264.5 C535.5 266.9 532.1 265.2 540.0 267.6 C547.9 270.1 563.5 275.4 575.2 279.2 C586.9 283.0 598.6 287.2 610.3 290.4 C622.0 293.6 633.8 296.1 645.5 298.5 C657.2 300.9 667.8 302.4 680.7 304.5 C693.6 306.6 711.2 308.7 722.9 310.9 C734.6 313.1 740.5 315.2 751.0 317.5 C761.5 319.8 774.5 322.5 786.2 324.9 C797.9 327.2 809.7 329.7 821.4 331.6 C833.1 333.5 844.9 334.4 856.6 336.2 C868.3 338.0 880.0 340.3 891.7 342.5 C903.4 344.7 915.2 347.2 926.9 349.5 C938.6 351.8 950.4 353.7 962.1 356.2 C973.8 358.7 985.6 361.8 997.3 364.3 C1009.0 366.8 1020.7 368.9 1032.4 371.4 C1044.1 373.9 1056.3 376.9 1067.6 379.4 C1078.9 381.9 1089.3 383.8 1100.0 386.3 C1110.7 388.8 1121.0 391.6 1131.6 394.2 C1142.1 396.8 1151.7 399.7 1163.3 402.1 C1174.9 404.5 1189.6 406.9 1201.2 408.5 C1212.8 410.1 1222.4 410.5 1232.9 411.6 C1243.5 412.8 1254.0 413.6 1264.5 415.4 C1275.0 417.1 1285.5 419.9 1296.1 422.1 C1306.6 424.3 1317.2 426.3 1327.8 428.4 C1338.3 430.4 1348.9 432.6 1359.4 434.4 C1369.9 436.2 1380.5 437.6 1391.0 439.2 C1401.5 440.8 1412.2 442.5 1422.7 444.2 C1433.2 445.9 1443.8 447.8 1454.3 449.6 C1464.8 451.5 1475.5 453.2 1486.0 455.3 C1496.5 457.4 1507.1 460.2 1517.6 462.3 C1528.1 464.4 1538.7 466.4 1549.2 468.0 C1559.8 469.6 1575.6 471.1 1580.9 471.7"/>
<path fill="none" stroke="#fa9828" stroke-width="1.25" stroke-linejoin="round" d="M0.0 304.5 C1.5 304.9 4.4 305.1 8.8 306.8 C13.2 308.5 19.9 311.5 26.4 314.7 C32.9 317.9 41.0 322.2 47.5 326.2 C54.0 330.2 60.4 335.4 65.1 338.5 C69.8 341.6 71.8 342.0 75.6 344.6 C79.4 347.2 83.4 350.7 87.9 354.3 C92.4 357.9 96.5 361.6 102.5 366.2 C108.5 370.8 115.2 376.9 124.1 382.0 C133.0 387.1 147.2 393.1 155.8 396.5 C164.5 399.9 170.3 400.6 176.0 402.3 C181.7 404.0 182.6 404.3 190.0 406.6 C197.4 408.9 211.1 413.4 220.2 416.3 C229.3 419.2 237.3 421.9 244.4 423.9 C251.5 425.9 256.5 427.4 262.5 428.4 C268.5 429.4 272.6 429.5 280.6 429.9 C288.7 430.3 302.7 430.8 310.8 430.8 C318.9 430.8 322.9 430.6 329.0 429.9 C335.1 429.1 342.6 427.6 347.1 426.3 C351.6 425.1 352.2 423.4 356.2 422.4 C360.2 421.4 366.3 420.8 371.3 420.2 C376.3 419.6 380.1 418.8 386.4 418.7 C392.7 418.6 401.9 419.8 409.2 419.3 C416.5 418.8 422.2 416.6 430.3 415.7 C438.4 414.8 449.4 414.4 457.5 414.2 C465.6 413.9 470.6 414.8 478.7 414.2 C486.8 413.6 496.8 411.9 505.8 410.3 C514.9 408.7 524.4 405.7 533.0 404.8 C541.6 403.9 550.2 404.7 557.2 405.1 C564.2 405.5 566.4 406.0 575.2 407.2 C584.1 408.4 598.6 411.5 610.3 412.5 C622.0 413.5 634.9 413.3 645.5 413.2 C656.1 413.1 664.9 411.7 673.7 411.8 C682.5 411.9 688.9 412.6 698.3 413.6 C707.7 414.6 721.1 415.6 729.9 417.8 C738.7 420.0 744.5 424.1 751.0 426.6 C757.5 429.1 761.6 431.3 768.6 432.9 C775.6 434.5 784.5 434.8 793.3 436.4 C802.1 438.0 812.6 440.2 821.4 442.4 C830.2 444.6 837.2 447.2 846.0 449.8 C854.8 452.4 865.3 455.6 874.1 458.2 C882.9 460.8 890.0 462.9 898.8 465.3 C907.6 467.7 917.5 469.5 926.9 472.3 C936.3 475.1 946.2 479.1 955.0 482.2 C963.8 485.3 970.9 488.4 979.7 491.0 C988.5 493.6 998.3 496.1 1007.8 497.8 C1017.3 499.5 1027.9 499.9 1036.8 501.4 C1045.7 502.9 1051.0 504.4 1061.0 506.8 C1071.0 509.2 1085.8 512.9 1097.0 516.0 C1108.2 519.1 1118.5 522.3 1128.5 525.5 C1138.5 528.7 1145.8 531.8 1156.9 535.0 C1168.0 538.2 1183.3 542.3 1194.9 544.5 C1206.5 546.7 1217.0 546.7 1226.5 548.3 C1236.0 549.9 1243.5 551.8 1251.9 554.0 C1260.4 556.2 1269.8 558.7 1277.2 561.3 C1284.6 563.9 1289.8 567.4 1296.1 569.8 C1302.4 572.2 1308.2 574.3 1315.1 575.5 C1322.0 576.7 1329.9 577.4 1337.3 577.1 C1344.7 576.8 1352.6 574.8 1359.4 573.6 C1366.2 572.4 1371.6 570.6 1378.4 569.8 C1385.2 568.9 1391.5 568.2 1400.5 568.5 C1409.5 568.8 1423.2 571.4 1432.2 571.4 C1441.2 571.4 1446.4 569.4 1454.3 568.2 C1462.2 567.0 1472.2 565.5 1479.6 564.1 C1487.0 562.7 1492.3 560.8 1498.6 559.7 C1504.9 558.7 1511.3 559.0 1517.6 557.8 C1523.9 556.6 1530.3 553.4 1536.6 552.4 C1542.9 551.4 1548.2 552.0 1555.6 551.5 C1563.0 551.0 1576.7 549.6 1580.9 549.2"/>
<path fill="none" stroke="#1a63c2" stroke-width="1.25" stroke-linejoin="round" d="M0.0 257.9 C1.5 258.2 2.9 258.1 8.8 259.7 C14.7 261.3 25.8 264.1 35.2 267.3 C44.6 270.5 56.9 276.2 65.1 279.0 C73.3 281.8 78.1 282.3 84.4 284.3 C90.7 286.3 96.5 288.9 102.9 291.0 C109.4 293.1 116.8 295.2 123.1 297.1 C129.4 299.0 133.4 299.8 140.7 302.1 C148.0 304.5 158.2 308.2 167.0 311.2 C175.8 314.2 185.2 317.6 193.4 320.0 C201.6 322.4 209.0 324.2 216.3 325.8 C223.6 327.4 230.1 327.9 237.4 329.3 C244.7 330.7 254.6 333.2 260.2 334.1 C265.8 335.1 266.7 334.9 270.8 335.0 C274.9 335.1 279.7 334.8 284.9 334.4 C290.1 334.0 295.5 332.9 301.8 332.6 C308.1 332.3 315.3 332.4 322.9 332.6 C330.4 332.9 339.6 333.6 347.1 334.1 C354.7 334.6 361.6 334.7 368.2 335.6 C374.8 336.5 381.1 338.0 386.4 339.3 C391.7 340.6 395.2 341.9 400.0 343.2 C404.8 344.4 405.6 344.4 415.2 346.8 C424.8 349.2 445.4 354.8 457.5 357.4 C469.6 360.0 478.1 360.7 487.7 362.5 C497.3 364.3 506.2 366.1 514.9 368.0 C523.6 369.9 532.3 371.2 540.0 373.8 C547.7 376.4 552.3 380.0 561.1 383.7 C569.9 387.4 582.8 392.8 592.8 396.0 C602.8 399.2 612.1 401.1 620.9 403.0 C629.7 404.9 636.7 405.7 645.5 407.2 C654.3 408.7 664.9 410.1 673.7 411.8 C682.5 413.5 688.9 415.2 698.3 417.1 C707.7 419.0 718.8 421.1 729.9 423.4 C741.0 425.7 755.7 429.5 765.1 431.1 C774.5 432.7 779.2 432.4 786.2 432.9 C793.2 433.4 799.7 434.0 807.3 434.0 C814.9 434.0 824.9 432.8 831.9 432.9 C838.9 433.0 842.5 433.7 849.5 434.7 C856.5 435.7 865.9 437.9 874.1 438.9 C882.3 439.9 890.0 439.8 898.8 440.6 C907.6 441.4 917.5 442.3 926.9 443.5 C936.3 444.7 946.2 446.9 955.0 448.0 C963.8 449.1 970.9 449.6 979.7 450.1 C988.5 450.6 999.0 450.6 1007.8 451.2 C1016.6 451.8 1024.8 453.2 1032.4 454.0 C1040.0 454.8 1045.9 454.5 1053.5 455.8 C1061.1 457.1 1070.5 460.2 1078.2 461.7 C1086.0 463.2 1091.1 463.5 1100.0 464.8 C1108.9 466.1 1121.0 467.6 1131.6 469.5 C1142.1 471.4 1152.8 473.9 1163.3 475.9 C1173.8 477.8 1183.3 478.7 1194.9 481.2 C1206.5 483.7 1220.2 487.8 1232.9 490.7 C1245.6 493.6 1260.3 496.0 1270.8 498.6 C1281.3 501.2 1287.6 503.9 1296.1 506.5 C1304.5 509.1 1314.1 512.6 1321.5 514.5 C1328.9 516.4 1332.5 517.0 1340.4 517.6 C1348.3 518.2 1360.5 517.9 1368.9 518.2 C1377.3 518.5 1384.2 518.2 1391.0 519.2 C1397.8 520.2 1403.7 522.3 1410.0 523.9 C1416.3 525.5 1422.7 527.5 1429.0 528.7 C1435.3 529.9 1440.6 530.4 1448.0 530.9 C1455.4 531.4 1463.8 531.5 1473.3 531.5 C1482.8 531.5 1494.4 530.6 1504.9 530.6 C1515.5 530.6 1527.6 530.7 1536.6 531.2 C1545.6 531.7 1551.3 532.7 1558.7 533.4 C1566.1 534.1 1577.2 535.0 1580.9 535.3"/>
<line x1="0" y1="526.5" x2="1639" y2="526.5" stroke="#2f4b78" stroke-width="1" shape-rendering="crispEdges"/>
<g><line x1="1637" y1="21.08" x2="1642" y2="21.08" stroke="#858585" stroke-width="1"/><text x="1644.3" y="25" font-size="10.8" fill="#585858">1.1825</text><line x1="1637" y1="43.70" x2="1642" y2="43.70" stroke="#858585" stroke-width="1"/><text x="1644.3" y="48" font-size="10.8" fill="#585858">1.1800</text><line x1="1637" y1="66.32" x2="1642" y2="66.32" stroke="#858585" stroke-width="1"/><text x="1644.3" y="70" font-size="10.8" fill="#585858">1.1775</text><line x1="1637" y1="88.94" x2="1642" y2="88.94" stroke="#858585" stroke-width="1"/><text x="1644.3" y="93" font-size="10.8" fill="#585858">1.1750</text><line x1="1637" y1="111.56" x2="1642" y2="111.56" stroke="#858585" stroke-width="1"/><text x="1644.3" y="116" font-size="10.8" fill="#585858">1.1725</text><line x1="1637" y1="134.18" x2="1642" y2="134.18" stroke="#858585" stroke-width="1"/><text x="1644.3" y="138" font-size="10.8" fill="#585858">1.1700</text><line x1="1637" y1="156.80" x2="1642" y2="156.80" stroke="#858585" stroke-width="1"/><text x="1644.3" y="161" font-size="10.8" fill="#585858">1.1675</text><line x1="1637" y1="179.42" x2="1642" y2="179.42" stroke="#858585" stroke-width="1"/><text x="1644.3" y="183" font-size="10.8" fill="#585858">1.1650</text><line x1="1637" y1="202.04" x2="1642" y2="202.04" stroke="#858585" stroke-width="1"/><text x="1644.3" y="206" font-size="10.8" fill="#585858">1.1625</text><line x1="1637" y1="224.66" x2="1642" y2="224.66" stroke="#858585" stroke-width="1"/><text x="1644.3" y="229" font-size="10.8" fill="#585858">1.1600</text><line x1="1637" y1="247.28" x2="1642" y2="247.28" stroke="#858585" stroke-width="1"/><text x="1644.3" y="251" font-size="10.8" fill="#585858">1.1575</text><line x1="1637" y1="269.90" x2="1642" y2="269.90" stroke="#858585" stroke-width="1"/><text x="1644.3" y="274" font-size="10.8" fill="#585858">1.1550</text><line x1="1637" y1="292.52" x2="1642" y2="292.52" stroke="#858585" stroke-width="1"/><text x="1644.3" y="297" font-size="10.8" fill="#585858">1.1525</text><line x1="1637" y1="315.14" x2="1642" y2="315.14" stroke="#858585" stroke-width="1"/><text x="1644.3" y="319" font-size="10.8" fill="#585858">1.1500</text><line x1="1637" y1="337.76" x2="1642" y2="337.76" stroke="#858585" stroke-width="1"/><text x="1644.3" y="342" font-size="10.8" fill="#585858">1.1475</text><line x1="1637" y1="360.38" x2="1642" y2="360.38" stroke="#858585" stroke-width="1"/><text x="1644.3" y="364" font-size="10.8" fill="#585858">1.1450</text><line x1="1637" y1="383.00" x2="1642" y2="383.00" stroke="#858585" stroke-width="1"/><text x="1644.3" y="387" font-size="10.8" fill="#585858">1.1425</text><line x1="1637" y1="405.62" x2="1642" y2="405.62" stroke="#858585" stroke-width="1"/><text x="1644.3" y="410" font-size="10.8" fill="#585858">1.1400</text><line x1="1637" y1="428.24" x2="1642" y2="428.24" stroke="#858585" stroke-width="1"/><text x="1644.3" y="432" font-size="10.8" fill="#585858">1.1375</text><line x1="1637" y1="450.86" x2="1642" y2="450.86" stroke="#858585" stroke-width="1"/><text x="1644.3" y="455" font-size="10.8" fill="#585858">1.1350</text><line x1="1637" y1="473.48" x2="1642" y2="473.48" stroke="#858585" stroke-width="1"/><text x="1644.3" y="477" font-size="10.8" fill="#585858">1.1325</text><line x1="1637" y1="496.10" x2="1642" y2="496.10" stroke="#858585" stroke-width="1"/><text x="1644.3" y="500" font-size="10.8" fill="#585858">1.1300</text><line x1="1637" y1="518.72" x2="1642" y2="518.72" stroke="#858585" stroke-width="1"/><text x="1644.3" y="523" font-size="10.8" fill="#585858">1.1275</text><line x1="1637" y1="541.34" x2="1642" y2="541.34" stroke="#858585" stroke-width="1"/><text x="1644.3" y="545" font-size="10.8" fill="#585858">1.1250</text><line x1="1637" y1="563.96" x2="1642" y2="563.96" stroke="#858585" stroke-width="1"/><text x="1644.3" y="568" font-size="10.8" fill="#585858">1.1225</text><line x1="1637" y1="586.58" x2="1642" y2="586.58" stroke="#858585" stroke-width="1"/><text x="1644.3" y="591" font-size="10.8" fill="#585858">1.1200</text><line x1="1637" y1="609.20" x2="1642" y2="609.20" stroke="#858585" stroke-width="1"/><text x="1644.3" y="613" font-size="10.8" fill="#585858">1.1175</text><line x1="1637" y1="631.82" x2="1642" y2="631.82" stroke="#858585" stroke-width="1"/><text x="1644.3" y="636" font-size="10.8" fill="#585858">1.1150</text><line x1="1637" y1="654.44" x2="1642" y2="654.44" stroke="#858585" stroke-width="1"/><text x="1644.3" y="658" font-size="10.8" fill="#585858">1.1125</text><line x1="1637" y1="677.06" x2="1642" y2="677.06" stroke="#858585" stroke-width="1"/><text x="1644.3" y="681" font-size="10.8" fill="#585858">1.1100</text><line x1="1637" y1="699.68" x2="1642" y2="699.68" stroke="#858585" stroke-width="1"/><text x="1644.3" y="704" font-size="10.8" fill="#585858">1.1075</text></g>
<path d="M1637.5 526.5 L1640 522.5 L1640 519 L1688 519 L1688 534 L1640 534 L1640 530.5 Z" fill="#2f4b78"/>
<text x="1644.5" y="532" font-size="11" font-weight="bold" fill="#fff">1.12662</text>
<g><text x="0.5" y="718.7" font-size="10.9" fill="#585858">Nov</text><line x1="37.5" y1="703" x2="37.5" y2="705" stroke="#8a8a8a" stroke-width="1" shape-rendering="crispEdges"/><text x="37.5" y="718.7" font-size="10.9" fill="#585858" text-anchor="middle">22</text><line x1="74.5" y1="703" x2="74.5" y2="705" stroke="#8a8a8a" stroke-width="1" shape-rendering="crispEdges"/><text x="74.5" y="718.7" font-size="10.9" fill="#585858" text-anchor="middle">28</text><line x1="102.5" y1="703" x2="102.5" y2="705" stroke="#8a8a8a" stroke-width="1" shape-rendering="crispEdges"/><text x="102.5" y="718.7" font-size="10.9" fill="#585858" text-anchor="middle">Dec</text><line x1="130.5" y1="703" x2="130.5" y2="705" stroke="#8a8a8a" stroke-width="1" shape-rendering="crispEdges"/><text x="130.5" y="718.7" font-size="10.9" fill="#585858" text-anchor="middle">6</text><line x1="159.5" y1="703" x2="159.5" y2="705" stroke="#8a8a8a" stroke-width="1" shape-rendering="crispEdges"/><text x="159.5" y="718.7" font-size="10.9" fill="#585858" text-anchor="middle">11</text><line x1="187.5" y1="703" x2="187.5" y2="705" stroke="#8a8a8a" stroke-width="1" shape-rendering="crispEdges"/><text x="187.5" y="718.7" font-size="10.9" fill="#585858" text-anchor="middle">14</text><line x1="215.5" y1="703" x2="215.5" y2="705" stroke="#8a8a8a" stroke-width="1" shape-rendering="crispEdges"/><text x="215.5" y="718.7" font-size="10.9" fill="#585858" text-anchor="middle">19</text><line x1="243.5" y1="703" x2="243.5" y2="705" stroke="#8a8a8a" stroke-width="1" shape-rendering="crispEdges"/><text x="243.5" y="718.7" font-size="10.9" fill="#585858" text-anchor="middle">24</text><line x1="271.5" y1="703" x2="271.5" y2="705" stroke="#8a8a8a" stroke-width="1" shape-rendering="crispEdges"/><text x="271.5" y="718.7" font-size="10.9" fill="#585858" text-anchor="middle">27</text><line x1="299.5" y1="703" x2="299.5" y2="705" stroke="#8a8a8a" stroke-width="1" shape-rendering="crispEdges"/><text x="299.5" y="718.7" font-size="10.9" fill="#585858" text-anchor="middle">Jan</text><line x1="327.5" y1="703" x2="327.5" y2="705" stroke="#8a8a8a" stroke-width="1" shape-rendering="crispEdges"/><text x="327.5" y="718.7" font-size="10.9" fill="#585858" text-anchor="middle">4</text><line x1="355.5" y1="703" x2="355.5" y2="705" stroke="#8a8a8a" stroke-width="1" shape-rendering="crispEdges"/><text x="355.5" y="718.7" font-size="10.9" fill="#585858" text-anchor="middle">9</text><line x1="383.5" y1="703" x2="383.5" y2="705" stroke="#8a8a8a" stroke-width="1" shape-rendering="crispEdges"/><text x="383.5" y="718.7" font-size="10.9" fill="#585858" text-anchor="middle">14</text><line x1="411.5" y1="703" x2="411.5" y2="705" stroke="#8a8a8a" stroke-width="1" shape-rendering="crispEdges"/><text x="411.5" y="718.7" font-size="10.9" fill="#585858" text-anchor="middle">17</text><line x1="439.5" y1="703" x2="439.5" y2="705" stroke="#8a8a8a" stroke-width="1" shape-rendering="crispEdges"/><text x="439.5" y="718.7" font-size="10.9" fill="#585858" text-anchor="middle">22</text><line x1="467.5" y1="703" x2="467.5" y2="705" stroke="#8a8a8a" stroke-width="1" shape-rendering="crispEdges"/><text x="467.5" y="718.7" font-size="10.9" fill="#585858" text-anchor="middle">25</text><line x1="514.5" y1="703" x2="514.5" y2="705" stroke="#8a8a8a" stroke-width="1" shape-rendering="crispEdges"/><text x="514.5" y="718.7" font-size="10.9" fill="#585858" text-anchor="middle">Feb</text><line x1="542.5" y1="703" x2="542.5" y2="705" stroke="#8a8a8a" stroke-width="1" shape-rendering="crispEdges"/><text x="542.5" y="718.7" font-size="10.9" fill="#585858" text-anchor="middle">6</text><line x1="570.5" y1="703" x2="570.5" y2="705" stroke="#8a8a8a" stroke-width="1" shape-rendering="crispEdges"/><text x="570.5" y="718.7" font-size="10.9" fill="#585858" text-anchor="middle">11</text><line x1="598.5" y1="703" x2="598.5" y2="705" stroke="#8a8a8a" stroke-width="1" shape-rendering="crispEdges"/><text x="598.5" y="718.7" font-size="10.9" fill="#585858" text-anchor="middle">14</text><line x1="626.5" y1="703" x2="626.5" y2="705" stroke="#8a8a8a" stroke-width="1" shape-rendering="crispEdges"/><text x="626.5" y="718.7" font-size="10.9" fill="#585858" text-anchor="middle">19</text><line x1="654.5" y1="703" x2="654.5" y2="705" stroke="#8a8a8a" stroke-width="1" shape-rendering="crispEdges"/><text x="654.5" y="718.7" font-size="10.9" fill="#585858" text-anchor="middle">22</text><line x1="701.5" y1="703" x2="701.5" y2="705" stroke="#8a8a8a" stroke-width="1" shape-rendering="crispEdges"/><text x="701.5" y="718.7" font-size="10.9" fill="#585858" text-anchor="middle">Mar</text><line x1="729.5" y1="703" x2="729.5" y2="705" stroke="#8a8a8a" stroke-width="1" shape-rendering="crispEdges"/><text x="729.5" y="718.7" font-size="10.9" fill="#585858" text-anchor="middle">6</text><line x1="757.5" y1="703" x2="757.5" y2="705" stroke="#8a8a8a" stroke-width="1" shape-rendering="crispEdges"/><text x="757.5" y="718.7" font-size="10.9" fill="#585858" text-anchor="middle">11</text><line x1="785.5" y1="703" x2="785.5" y2="705" stroke="#8a8a8a" stroke-width="1" shape-rendering="crispEdges"/><text x="785.5" y="718.7" font-size="10.9" fill="#585858" text-anchor="middle">14</text><line x1="813.5" y1="703" x2="813.5" y2="705" stroke="#8a8a8a" stroke-width="1" shape-rendering="crispEdges"/><text x="813.5" y="718.7" font-size="10.9" fill="#585858" text-anchor="middle">19</text><line x1="841.5" y1="703" x2="841.5" y2="705" stroke="#8a8a8a" stroke-width="1" shape-rendering="crispEdges"/><text x="841.5" y="718.7" font-size="10.9" fill="#585858" text-anchor="middle">22</text><line x1="869.5" y1="703" x2="869.5" y2="705" stroke="#8a8a8a" stroke-width="1" shape-rendering="crispEdges"/><text x="869.5" y="718.7" font-size="10.9" fill="#585858" text-anchor="middle">27</text><line x1="898.5" y1="703" x2="898.5" y2="705" stroke="#8a8a8a" stroke-width="1" shape-rendering="crispEdges"/><text x="898.5" y="718.7" font-size="10.9" fill="#585858" text-anchor="middle">Apr</text><line x1="926.5" y1="703" x2="926.5" y2="705" stroke="#8a8a8a" stroke-width="1" shape-rendering="crispEdges"/><text x="926.5" y="718.7" font-size="10.9" fill="#585858" text-anchor="middle">4</text><line x1="954.5" y1="703" x2="954.5" y2="705" stroke="#8a8a8a" stroke-width="1" shape-rendering="crispEdges"/><text x="954.5" y="718.7" font-size="10.9" fill="#585858" text-anchor="middle">9</text><line x1="982.5" y1="703" x2="982.5" y2="705" stroke="#8a8a8a" stroke-width="1" shape-rendering="crispEdges"/><text x="982.5" y="718.7" font-size="10.9" fill="#585858" text-anchor="middle">12</text><line x1="1010.5" y1="703" x2="1010.5" y2="705" stroke="#8a8a8a" stroke-width="1" shape-rendering="crispEdges"/><text x="1010.5" y="718.7" font-size="10.9" fill="#585858" text-anchor="middle">17</text><line x1="1038.5" y1="703" x2="1038.5" y2="705" stroke="#8a8a8a" stroke-width="1" shape-rendering="crispEdges"/><text x="1038.5" y="718.7" font-size="10.9" fill="#585858" text-anchor="middle">22</text><line x1="1066.5" y1="703" x2="1066.5" y2="705" stroke="#8a8a8a" stroke-width="1" shape-rendering="crispEdges"/><text x="1066.5" y="718.7" font-size="10.9" fill="#585858" text-anchor="middle">25</text><line x1="1103.5" y1="703" x2="1103.5" y2="705" stroke="#8a8a8a" stroke-width="1" shape-rendering="crispEdges"/><text x="1103.5" y="718.7" font-size="10.9" fill="#585858" text-anchor="middle">May</text><line x1="1131.5" y1="703" x2="1131.5" y2="705" stroke="#8a8a8a" stroke-width="1" shape-rendering="crispEdges"/><text x="1131.5" y="718.7" font-size="10.9" fill="#585858" text-anchor="middle">6</text><line x1="1159.5" y1="703" x2="1159.5" y2="705" stroke="#8a8a8a" stroke-width="1" shape-rendering="crispEdges"/><text x="1159.5" y="718.7" font-size="10.9" fill="#585858" text-anchor="middle">9</text><line x1="1187.5" y1="703" x2="1187.5" y2="705" stroke="#8a8a8a" stroke-width="1" shape-rendering="crispEdges"/><text x="1187.5" y="718.7" font-size="10.9" fill="#585858" text-anchor="middle">14</text><line x1="1216.5" y1="703" x2="1216.5" y2="705" stroke="#8a8a8a" stroke-width="1" shape-rendering="crispEdges"/><text x="1216.5" y="718.7" font-size="10.9" fill="#585858" text-anchor="middle">17</text><line x1="1244.5" y1="703" x2="1244.5" y2="705" stroke="#8a8a8a" stroke-width="1" shape-rendering="crispEdges"/><text x="1244.5" y="718.7" font-size="10.9" fill="#585858" text-anchor="middle">22</text><line x1="1272.5" y1="703" x2="1272.5" y2="705" stroke="#8a8a8a" stroke-width="1" shape-rendering="crispEdges"/><text x="1272.5" y="718.7" font-size="10.9" fill="#585858" text-anchor="middle">27</text><line x1="1318.5" y1="703" x2="1318.5" y2="705" stroke="#8a8a8a" stroke-width="1" shape-rendering="crispEdges"/><text x="1318.5" y="718.7" font-size="10.9" fill="#585858" text-anchor="middle">Jun</text><line x1="1346.5" y1="703" x2="1346.5" y2="705" stroke="#8a8a8a" stroke-width="1" shape-rendering="crispEdges"/><text x="1346.5" y="718.7" font-size="10.9" fill="#585858" text-anchor="middle">6</text><line x1="1375.5" y1="703" x2="1375.5" y2="705" stroke="#8a8a8a" stroke-width="1" shape-rendering="crispEdges"/><text x="1375.5" y="718.7" font-size="10.9" fill="#585858" text-anchor="middle">11</text><line x1="1403.5" y1="703" x2="1403.5" y2="705" stroke="#8a8a8a" stroke-width="1" shape-rendering="crispEdges"/><text x="1403.5" y="718.7" font-size="10.9" fill="#585858" text-anchor="middle">14</text><line x1="1431.5" y1="703" x2="1431.5" y2="705" stroke="#8a8a8a" stroke-width="1" shape-rendering="crispEdges"/><text x="1431.5" y="718.7" font-size="10.9" fill="#585858" text-anchor="middle">19</text><line x1="1459.5" y1="703" x2="1459.5" y2="705" stroke="#8a8a8a" stroke-width="1" shape-rendering="crispEdges"/><text x="1459.5" y="718.7" font-size="10.9" fill="#585858" text-anchor="middle">24</text><line x1="1487.5" y1="703" x2="1487.5" y2="705" stroke="#8a8a8a" stroke-width="1" shape-rendering="crispEdges"/><text x="1487.5" y="718.7" font-size="10.9" fill="#585858" text-anchor="middle">27</text><line x1="1506.5" y1="703" x2="1506.5" y2="705" stroke="#8a8a8a" stroke-width="1" shape-rendering="crispEdges"/><text x="1506.5" y="718.7" font-size="10.9" fill="#585858" text-anchor="middle">Jul</text><line x1="1534.5" y1="703" x2="1534.5" y2="705" stroke="#8a8a8a" stroke-width="1" shape-rendering="crispEdges"/><text x="1534.5" y="718.7" font-size="10.9" fill="#585858" text-anchor="middle">4</text><line x1="1562.5" y1="703" x2="1562.5" y2="705" stroke="#8a8a8a" stroke-width="1" shape-rendering="crispEdges"/><text x="1562.5" y="718.7" font-size="10.9" fill="#585858" text-anchor="middle">9</text><line x1="1590.5" y1="703" x2="1590.5" y2="705" stroke="#8a8a8a" stroke-width="1" shape-rendering="crispEdges"/><text x="1590.5" y="718.7" font-size="10.9" fill="#585858" text-anchor="middle">12</text><line x1="1618.5" y1="703" x2="1618.5" y2="705" stroke="#8a8a8a" stroke-width="1" shape-rendering="crispEdges"/><text x="1618.5" y="718.7" font-size="10.9" fill="#585858" text-anchor="middle">17</text></g>
<g><rect x="5" y="5" width="80" height="22" fill="#000" fill-opacity="0.6"/><rect x="5" y="5" width="3" height="22" fill="#000000"/><text x="17" y="20.8" font-size="11" font-weight="bold" fill="#fff">EUR/USD</text><rect x="5" y="32" width="85" height="22" fill="#000" fill-opacity="0.6"/><rect x="5" y="32" width="3" height="22" fill="#ff8c00"/><text x="17" y="47.8" font-size="11" font-weight="bold" fill="#fff">SMA (50,0)</text><rect x="5" y="59" width="91" height="22" fill="#000" fill-opacity="0.6"/><rect x="5" y="59" width="3" height="22" fill="#0047b3"/><text x="17" y="74.8" font-size="11" font-weight="bold" fill="#fff">SMA (100,0)</text><rect x="5" y="86" width="91" height="22" fill="#000" fill-opacity="0.6"/><rect x="5" y="86" width="3" height="22" fill="#ff00ff"/><text x="17" y="101.8" font-size="11" font-weight="bold" fill="#fff">SMA (200,0)</text></g>
</svg></body></html>
